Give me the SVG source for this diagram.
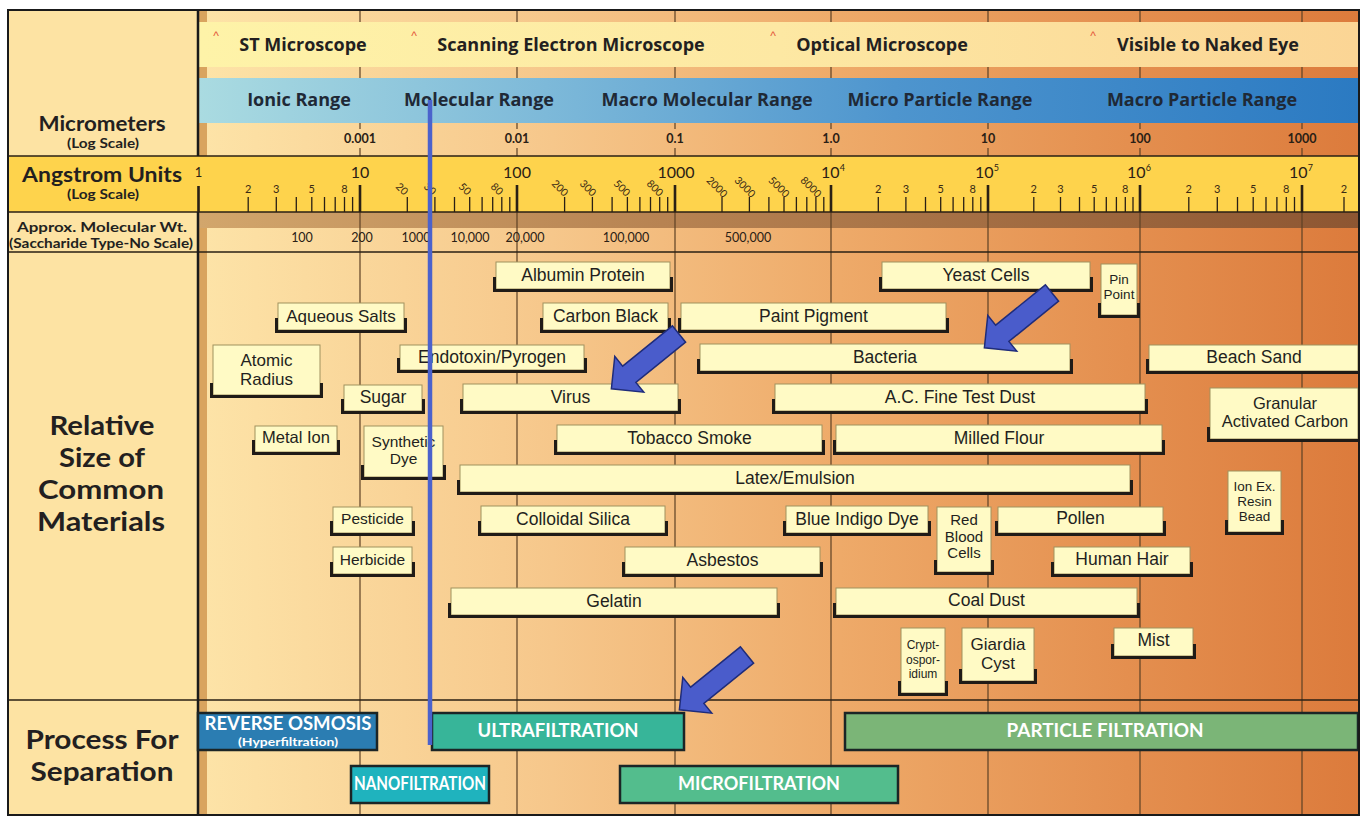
<svg xmlns="http://www.w3.org/2000/svg" width="1367" height="818" viewBox="0 0 1367 818">
<defs>
<linearGradient id="gBg" gradientUnits="userSpaceOnUse" x1="207" y1="0" x2="1358" y2="0">
<stop offset="0" stop-color="#FDE3A7"/>
<stop offset="0.3" stop-color="#F6C78B"/>
<stop offset="0.55" stop-color="#EEAA69"/>
<stop offset="0.8" stop-color="#E48F4F"/>
<stop offset="1" stop-color="#DC7B3C"/>
</linearGradient>
<linearGradient id="gMic" gradientUnits="userSpaceOnUse" x1="199" y1="0" x2="1358" y2="0">
<stop offset="0" stop-color="#FEF3A8"/>
<stop offset="0.5" stop-color="#FDE8A3"/>
<stop offset="1" stop-color="#FBD595"/>
</linearGradient>
<linearGradient id="gRng" gradientUnits="userSpaceOnUse" x1="199" y1="0" x2="1358" y2="0">
<stop offset="0" stop-color="#AADBE1"/>
<stop offset="0.3" stop-color="#7DB9D9"/>
<stop offset="0.6" stop-color="#4E95CE"/>
<stop offset="1" stop-color="#2B7AC2"/>
</linearGradient>
<linearGradient id="gBrn" gradientUnits="userSpaceOnUse" x1="199" y1="0" x2="1358" y2="0">
<stop offset="0" stop-color="#D2A66C"/>
<stop offset="0.4" stop-color="#B78352"/>
<stop offset="1" stop-color="#8D5632"/>
</linearGradient>
</defs>
<style>
.box{fill:#FFFAC5;stroke:#A0915F;stroke-width:1}
.br{fill:none;stroke:#201B17;stroke-width:3}
.lb{font-family:"Liberation Sans",Arial,sans-serif;font-size:17.5px;fill:#231F20;text-anchor:middle}
.hd{font-family:"Open Sans",sans-serif;font-weight:700;font-size:18px;fill:#231F20;text-anchor:middle}
.rg{font-family:"Open Sans",sans-serif;font-weight:700;font-size:18px;fill:#1F2936;text-anchor:middle}
.lc{font-family:Lato,sans-serif;font-weight:700;fill:#231F20;text-anchor:middle}
.grid{stroke:#5E4125;stroke-width:1.2;fill:none}
.hl{stroke:#2A2015;stroke-width:1.5;fill:none}
.tk{stroke:#2A2015;stroke-width:1.3;fill:none}
.mj{stroke:#2A2015;stroke-width:2.6;fill:none}
.tl{font-family:Lato,sans-serif;font-size:11px;fill:#3A2A15;text-anchor:middle}
.tr{font-family:Lato,sans-serif;font-size:10.5px;fill:#3A2A15;text-anchor:middle}
.mn{font-family:Lato,sans-serif;font-size:16px;fill:#2A2015;text-anchor:middle}
.um{font-family:Lato,sans-serif;font-weight:700;font-size:12.5px;fill:#2A2015;text-anchor:middle}
.mw{font-family:Lato,sans-serif;font-size:12.5px;fill:#2A2015;text-anchor:middle}
.car{font-family:"Liberation Sans",sans-serif;font-size:12px;fill:#E4573A;text-anchor:middle}
.pb{stroke:#1B2526;stroke-width:2.5}
.pt{font-family:Lato,sans-serif;font-weight:700;fill:#FFFFFF;text-anchor:middle}
.arw{fill:#4A5CCB;stroke:#1F2C7A;stroke-width:1.5}
</style>

<!-- backgrounds -->
<rect x="8" y="10" width="190" height="805" fill="#FDE3A3"/>
<rect x="198" y="10" width="1160" height="805" fill="url(#gBg)"/>
<rect x="199" y="10" width="8" height="805" fill="#D9A45E"/>
<rect x="198" y="212" width="1160" height="16" fill="url(#gBrn)"/>

<!-- vertical grid -->
<path class="grid" d="M360 10V129M360 148V815M517 10V129M517 148V815M675 10V129M675 148V815M831 10V129M831 148V815M988 10V129M988 148V815M1140 10V129M1140 148V815M1302 10V129M1302 148V815"/>

<!-- header bands -->
<rect x="199" y="22" width="1159" height="45" fill="url(#gMic)"/>
<rect x="199" y="78" width="1159" height="45" fill="url(#gRng)"/>
<rect x="8" y="156" width="1350" height="56" fill="#FED34C"/>

<!-- horizontal lines -->
<path class="hl" d="M8 156H1358M8 212H1358"/>
<path class="hl" stroke-width="1.2" d="M8 252H1358M8 700H1358"/>
<path stroke="#1A1A1A" stroke-width="2.5" fill="none" d="M198 10V156M198 212V815"/>

<!-- microscope band -->
<g id="microscopes">
<text class="car" x="216" y="40">^</text>
<text class="car" x="414" y="40">^</text>
<text class="car" x="773" y="40">^</text>
<text class="car" x="1093" y="40">^</text>
<text class="hd" x="303" y="51">ST Microscope</text>
<text class="hd" x="571" y="51">Scanning Electron Microscope</text>
<text class="hd" x="882" y="51">Optical Microscope</text>
<text class="hd" x="1208" y="51">Visible to Naked Eye</text>
</g>

<!-- ranges -->
<g id="ranges">
<text class="rg" x="299" y="106">Ionic Range</text>
<text class="rg" x="479" y="106">Molecular Range</text>
<text class="rg" x="707" y="106">Macro Molecular Range</text>
<text class="rg" x="940" y="106">Micro Particle Range</text>
<text class="rg" x="1202" y="106">Macro Particle Range</text>
</g>

<!-- micrometer scale -->
<g id="micrometer-scale">
<text class="um" x="360" y="143">0.001</text>
<text class="um" x="517" y="143">0.01</text>
<text class="um" x="675" y="143">0.1</text>
<text class="um" x="831" y="143">1.0</text>
<text class="um" x="988" y="143">10</text>
<text class="um" x="1140" y="143">100</text>
<text class="um" x="1302" y="143">1000</text>
</g>

<!-- angstrom scale -->
<g id="angstrom-scale">
<path class="tk" d="M248.2 197V212M276.3 197V212M296.3 197V212M311.8 197V212M324.5 197V212M335.2 197V212M344.5 197V212M352.6 197V212M407.3 197V212M434.9 197V212M454.5 197V212M469.7 197V212M482.1 197V212M492.7 197V212M501.8 197V212M509.8 197V212M564.6 197V212M592.4 197V212M612.1 197V212M627.4 197V212M639.9 197V212M650.5 197V212M659.7 197V212M667.7 197V212M722 197V212M749.4 197V212M768.9 197V212M784 197V212M796.4 197V212M806.8 197V212M815.9 197V212M823.8 197V212M878.3 197V212M905.9 197V212M925.5 197V212M940.7 197V212M953.1 197V212M963.7 197V212M972.8 197V212M980.8 197V212M1033.8 197V212M1060.5 197V212M1079.5 197V212M1094.2 197V212M1106.3 197V212M1116.4 197V212M1125.3 197V212M1133 197V212M1188.8 197V212M1217.3 197V212M1237.5 197V212M1253.2 197V212M1266 197V212M1276.9 197V212M1286.3 197V212M1294.5 197V212M1344 197V212"/>
<path class="mj" d="M198.5 186V212M360 185V212M517 185V212M675 185V212M831 185V212M988 185V212M1140 185V212M1302 185V212"/>
<text class="mn" x="198.5" y="177" style="font-size:13px">1</text>
<text class="mn" x="360" y="178">10</text>
<text class="mn" x="517" y="178">100</text>
<text class="mn" x="676" y="178">1000</text>
<text class="mn" x="833" y="178">10<tspan dy="-7" font-size="9">4</tspan></text>
<text class="mn" x="987" y="178">10<tspan dy="-7" font-size="9">5</tspan></text>
<text class="mn" x="1139" y="178">10<tspan dy="-7" font-size="9">6</tspan></text>
<text class="mn" x="1301" y="178">10<tspan dy="-7" font-size="9">7</tspan></text>
<text class="tl" x="248.2" y="193">2</text>
<text class="tl" x="276.3" y="193">3</text>
<text class="tl" x="311.8" y="193">5</text>
<text class="tl" x="344.5" y="193">8</text>
<text class="tl" x="878.3" y="193">2</text>
<text class="tl" x="905.9" y="193">3</text>
<text class="tl" x="940.7" y="193">5</text>
<text class="tl" x="972.8" y="193">8</text>
<text class="tl" x="1033.8" y="193">2</text>
<text class="tl" x="1060.5" y="193">3</text>
<text class="tl" x="1094.2" y="193">5</text>
<text class="tl" x="1125.3" y="193">8</text>
<text class="tl" x="1188.8" y="193">2</text>
<text class="tl" x="1217.3" y="193">3</text>
<text class="tl" x="1253.2" y="193">5</text>
<text class="tl" x="1286.3" y="193">8</text>
<text class="tl" x="1344" y="193">2</text>
<text class="tr" transform="translate(402 189) rotate(45)" dy="0.35em">20</text>
<text class="tr" transform="translate(430 189) rotate(45)" dy="0.35em">30</text>
<text class="tr" transform="translate(465 189) rotate(45)" dy="0.35em">50</text>
<text class="tr" transform="translate(497 189) rotate(45)" dy="0.35em">80</text>
<text class="tr" transform="translate(560 188) rotate(45)" dy="0.35em">200</text>
<text class="tr" transform="translate(588 188) rotate(45)" dy="0.35em">300</text>
<text class="tr" transform="translate(622 188) rotate(45)" dy="0.35em">500</text>
<text class="tr" transform="translate(655 188) rotate(45)" dy="0.35em">800</text>
<text class="tr" transform="translate(717 187) rotate(45)" dy="0.35em">2000</text>
<text class="tr" transform="translate(745 187) rotate(45)" dy="0.35em">3000</text>
<text class="tr" transform="translate(779 187) rotate(45)" dy="0.35em">5000</text>
<text class="tr" transform="translate(811 187) rotate(45)" dy="0.35em">8000</text>
</g>

<!-- molecular weight -->
<g id="molecular-weight">
<text class="mw" x="302" y="242">100</text>
<text class="mw" x="362" y="242">200</text>
<text class="mw" x="416" y="242">1000</text>
<text class="mw" x="470" y="242">10,000</text>
<text class="mw" x="525" y="242">20,000</text>
<text class="mw" x="626" y="242">100,000</text>
<text class="mw" x="748" y="242">500,000</text>
</g>

<!-- left column labels -->
<g id="row-labels">
<text class="lc" x="102" y="130.5" font-size="20.5" textLength="127" lengthAdjust="spacingAndGlyphs">Micrometers</text>
<text class="lc" x="103" y="147.5" font-size="12.5" textLength="72" lengthAdjust="spacingAndGlyphs">(Log Scale)</text>
<text class="lc" x="102" y="182" font-size="20.5" textLength="160" lengthAdjust="spacingAndGlyphs">Angstrom Units</text>
<text class="lc" x="103" y="199" font-size="12.5" textLength="72" lengthAdjust="spacingAndGlyphs">(Log Scale)</text>
<text class="lc" x="102" y="231.5" font-size="14" textLength="170" lengthAdjust="spacingAndGlyphs">Approx. Molecular Wt.</text>
<text class="lc" x="101" y="247.5" font-size="12.5" textLength="184" lengthAdjust="spacingAndGlyphs">(Saccharide Type-No Scale)</text>
<text class="lc" x="102" y="435" font-size="26.5" textLength="105" lengthAdjust="spacingAndGlyphs">Relative</text>
<text class="lc" x="102" y="467" font-size="26.5" textLength="86" lengthAdjust="spacingAndGlyphs">Size of</text>
<text class="lc" x="101" y="499" font-size="26.5" textLength="126" lengthAdjust="spacingAndGlyphs">Common</text>
<text class="lc" x="101" y="531" font-size="26.5" textLength="128" lengthAdjust="spacingAndGlyphs">Materials</text>
<text class="lc" x="102" y="749" font-size="26.5" textLength="153" lengthAdjust="spacingAndGlyphs">Process For</text>
<text class="lc" x="102" y="781" font-size="26.5" textLength="143" lengthAdjust="spacingAndGlyphs">Separation</text>
</g>

<!-- material boxes -->
<g id="albumin-protein"><rect class="box" x="496" y="262" width="174" height="27"/><path class="br" d="M494.5 277V290.5H671.5V277"/><text class="lb" x="583" y="281">Albumin Protein</text></g>
<g id="yeast-cells"><rect class="box" x="882" y="262" width="208" height="27"/><path class="br" d="M880.5 277V290.5H1091.5V277"/><text class="lb" x="986" y="281">Yeast Cells</text></g>
<g id="pin-point"><rect class="box" x="1101" y="264" width="36" height="51"/><path class="br" d="M1099.5 303V316.5H1138.5V303"/><text class="lb" x="1119" y="284" style="font-size:13.5px">Pin</text><text class="lb" x="1119" y="299" style="font-size:13.5px">Point</text></g>
<g id="aqueous-salts"><rect class="box" x="278" y="303" width="126" height="27"/><path class="br" d="M276.5 318V331.5H405.5V318"/><text class="lb" x="341" y="322" style="font-size:17px">Aqueous Salts</text></g>
<g id="carbon-black"><rect class="box" x="543" y="303" width="125" height="27"/><path class="br" d="M541.5 318V331.5H669.5V318"/><text class="lb" x="605.5" y="322">Carbon Black</text></g>
<g id="paint-pigment"><rect class="box" x="681" y="303" width="265" height="27"/><path class="br" d="M679.5 318V331.5H947.5V318"/><text class="lb" x="813.5" y="322">Paint Pigment</text></g>
<g id="atomic-radius"><rect class="box" x="213" y="345" width="107" height="50"/><path class="br" d="M211.5 383V396.5H321.5V383"/><text class="lb" x="266.5" y="366" style="font-size:17px">Atomic</text><text class="lb" x="266.5" y="384.5" style="font-size:17px">Radius</text></g>
<g id="endotoxin-pyrogen"><rect class="box" x="400" y="345" width="184" height="25"/><path class="br" d="M398.5 358V371.5H585.5V358"/><text class="lb" x="492" y="363">Endotoxin/Pyrogen</text></g>
<g id="bacteria"><rect class="box" x="700" y="344" width="370" height="27"/><path class="br" d="M698.5 359V372.5H1071.5V359"/><text class="lb" x="885" y="363">Bacteria</text></g>
<g id="beach-sand"><rect class="box" x="1149" y="345" width="209" height="26"/><path class="br" d="M1147.5 359V372.5H1358"/><text class="lb" x="1254" y="363">Beach Sand</text></g>
<g id="sugar"><rect class="box" x="344" y="385" width="78" height="26"/><path class="br" d="M342.5 399V412.5H423.5V399"/><text class="lb" x="383" y="403">Sugar</text></g>
<g id="virus"><rect class="box" x="463" y="384" width="215" height="27"/><path class="br" d="M461.5 399V412.5H679.5V399"/><text class="lb" x="570.5" y="403">Virus</text></g>
<g id="ac-fine-test-dust"><rect class="box" x="775" y="384" width="370" height="27"/><path class="br" d="M773.5 399V412.5H1146.5V399"/><text class="lb" x="960" y="403">A.C. Fine Test Dust</text></g>
<g id="granular-activated-carbon"><rect class="box" x="1210" y="388" width="148" height="51"/><path class="br" d="M1208.5 427V440.5H1358"/><text class="lb" x="1285" y="409" style="font-size:16.5px">Granular</text><text class="lb" x="1285" y="426.5" style="font-size:16.5px">Activated Carbon</text></g>
<g id="metal-ion"><rect class="box" x="255" y="426" width="82" height="26"/><path class="br" d="M253.5 440V453.5H338.5V440"/><text class="lb" x="296" y="443" style="font-size:16.5px">Metal Ion</text></g>
<g id="synthetic-dye"><rect class="box" x="364" y="426" width="79" height="51"/><path class="br" d="M362.5 465V478.5H444.5V465"/><text class="lb" x="403.5" y="446.5" style="font-size:15.5px">Synthetic</text><text class="lb" x="403.5" y="463.5" style="font-size:15.5px">Dye</text></g>
<g id="tobacco-smoke"><rect class="box" x="557" y="425" width="265" height="27"/><path class="br" d="M555.5 440V453.5H823.5V440"/><text class="lb" x="689.5" y="444">Tobacco Smoke</text></g>
<g id="milled-flour"><rect class="box" x="836" y="425" width="326" height="27"/><path class="br" d="M834.5 440V453.5H1163.5V440"/><text class="lb" x="999" y="444">Milled Flour</text></g>
<g id="latex-emulsion"><rect class="box" x="460" y="465" width="670" height="27"/><path class="br" d="M458.5 480V493.5H1131.5V480"/><text class="lb" x="795" y="484">Latex/Emulsion</text></g>
<g id="ion-ex-resin-bead"><rect class="box" x="1228" y="471" width="53" height="61"/><path class="br" d="M1226.5 520V533.5H1282.5V520"/><text class="lb" x="1254.5" y="491" style="font-size:13.5px">Ion Ex.</text><text class="lb" x="1254.5" y="506" style="font-size:13.5px">Resin</text><text class="lb" x="1254.5" y="521" style="font-size:13.5px">Bead</text></g>
<g id="pesticide"><rect class="box" x="333" y="507" width="79" height="26"/><path class="br" d="M331.5 521V534.5H413.5V521"/><text class="lb" x="372.5" y="524" style="font-size:15.5px">Pesticide</text></g>
<g id="colloidal-silica"><rect class="box" x="481" y="506" width="184" height="27"/><path class="br" d="M479.5 521V534.5H666.5V521"/><text class="lb" x="573" y="525">Colloidal Silica</text></g>
<g id="blue-indigo-dye"><rect class="box" x="786" y="506" width="142" height="27"/><path class="br" d="M784.5 521V534.5H929.5V521"/><text class="lb" x="857" y="525">Blue Indigo Dye</text></g>
<g id="red-blood-cells"><rect class="box" x="937" y="507" width="54" height="65"/><path class="br" d="M935.5 560V573.5H992.5V560"/><text class="lb" x="964" y="525" style="font-size:15px">Red</text><text class="lb" x="964" y="541.5" style="font-size:15px">Blood</text><text class="lb" x="964" y="558" style="font-size:15px">Cells</text></g>
<g id="pollen"><rect class="box" x="998" y="507" width="165" height="26"/><path class="br" d="M996.5 521V534.5H1164.5V521"/><text class="lb" x="1080.5" y="524">Pollen</text></g>
<g id="herbicide"><rect class="box" x="333" y="547" width="79" height="27"/><path class="br" d="M331.5 562V575.5H413.5V562"/><text class="lb" x="372.5" y="565" style="font-size:15.5px">Herbicide</text></g>
<g id="asbestos"><rect class="box" x="625" y="547" width="195" height="27"/><path class="br" d="M623.5 562V575.5H821.5V562"/><text class="lb" x="722.5" y="566">Asbestos</text></g>
<g id="human-hair"><rect class="box" x="1054" y="547" width="136" height="27"/><path class="br" d="M1052.5 562V575.5H1191.5V562"/><text class="lb" x="1122" y="565">Human Hair</text></g>
<g id="gelatin"><rect class="box" x="451" y="588" width="326" height="27"/><path class="br" d="M449.5 603V616.5H778.5V603"/><text class="lb" x="614" y="607">Gelatin</text></g>
<g id="coal-dust"><rect class="box" x="836" y="588" width="301" height="27"/><path class="br" d="M834.5 603V616.5H1138.5V603"/><text class="lb" x="986.5" y="606">Coal Dust</text></g>
<g id="cryptosporidium"><rect class="box" x="901" y="628" width="44" height="65"/><path class="br" d="M899.5 681V694.5H946.5V681"/><text class="lb" x="923" y="649" style="font-size:12px">Crypt-</text><text class="lb" x="923" y="663.5" style="font-size:12px">ospor-</text><text class="lb" x="923" y="678" style="font-size:12px">idium</text></g>
<g id="giardia-cyst"><rect class="box" x="962" y="628" width="72" height="53"/><path class="br" d="M960.5 669V682.5H1035.5V669"/><text class="lb" x="998" y="650" style="font-size:17px">Giardia</text><text class="lb" x="998" y="668.5" style="font-size:17px">Cyst</text></g>
<g id="mist"><rect class="box" x="1114" y="628" width="79" height="28"/><path class="br" d="M1112.5 644V657.5H1194.5V644"/><text class="lb" x="1153.5" y="646">Mist</text></g>

<!-- process bars -->
<g id="reverse-osmosis"><rect class="pb" x="198" y="713" width="179" height="37" fill="#2B7DB2"/><text class="pt" x="288" y="729.5" font-size="18" textLength="167" lengthAdjust="spacingAndGlyphs">REVERSE OSMOSIS</text><text class="pt" x="288" y="746" font-size="11.5" textLength="100" lengthAdjust="spacingAndGlyphs">(Hyperfiltration)</text></g>
<g id="ultrafiltration"><rect class="pb" x="432" y="713" width="252" height="37" fill="#37B599"/><text class="pt" x="558" y="737" font-size="19" textLength="161" lengthAdjust="spacingAndGlyphs">ULTRAFILTRATION</text></g>
<g id="nanofiltration"><rect class="pb" x="351" y="766" width="138" height="37" fill="#1FB3BE"/><text class="pt" x="420" y="790" font-size="19" textLength="132" lengthAdjust="spacingAndGlyphs">NANOFILTRATION</text></g>
<g id="microfiltration"><rect class="pb" x="620" y="766" width="278" height="37" fill="#53BD8D"/><text class="pt" x="759" y="790" font-size="19" textLength="162" lengthAdjust="spacingAndGlyphs">MICROFILTRATION</text></g>
<g id="particle-filtration"><rect class="pb" x="845" y="713" width="513" height="37" fill="#7BB577"/><text class="pt" x="1105" y="737" font-size="19" textLength="197" lengthAdjust="spacingAndGlyphs">PARTICLE FILTRATION</text></g>

<!-- marker line and arrows -->
<g id="connectors">
<path d="M430 100V745" stroke="#4B62CC" stroke-width="4.5" fill="none"/>
<path class="arw" transform="translate(679 334) rotate(141)" d="M0 -10.5H64V-23L87 0L64 23V10.5H0Z"/>
<path class="arw" transform="translate(1052 293) rotate(141)" d="M0 -10.5H64V-23L87 0L64 23V10.5H0Z"/>
<path class="arw" transform="translate(747 655) rotate(141)" d="M0 -10.5H64V-23L87 0L64 23V10.5H0Z"/>
</g>

<rect x="8" y="10" width="1351" height="805" fill="none" stroke="#1A1A1A" stroke-width="2"/>
</svg>
